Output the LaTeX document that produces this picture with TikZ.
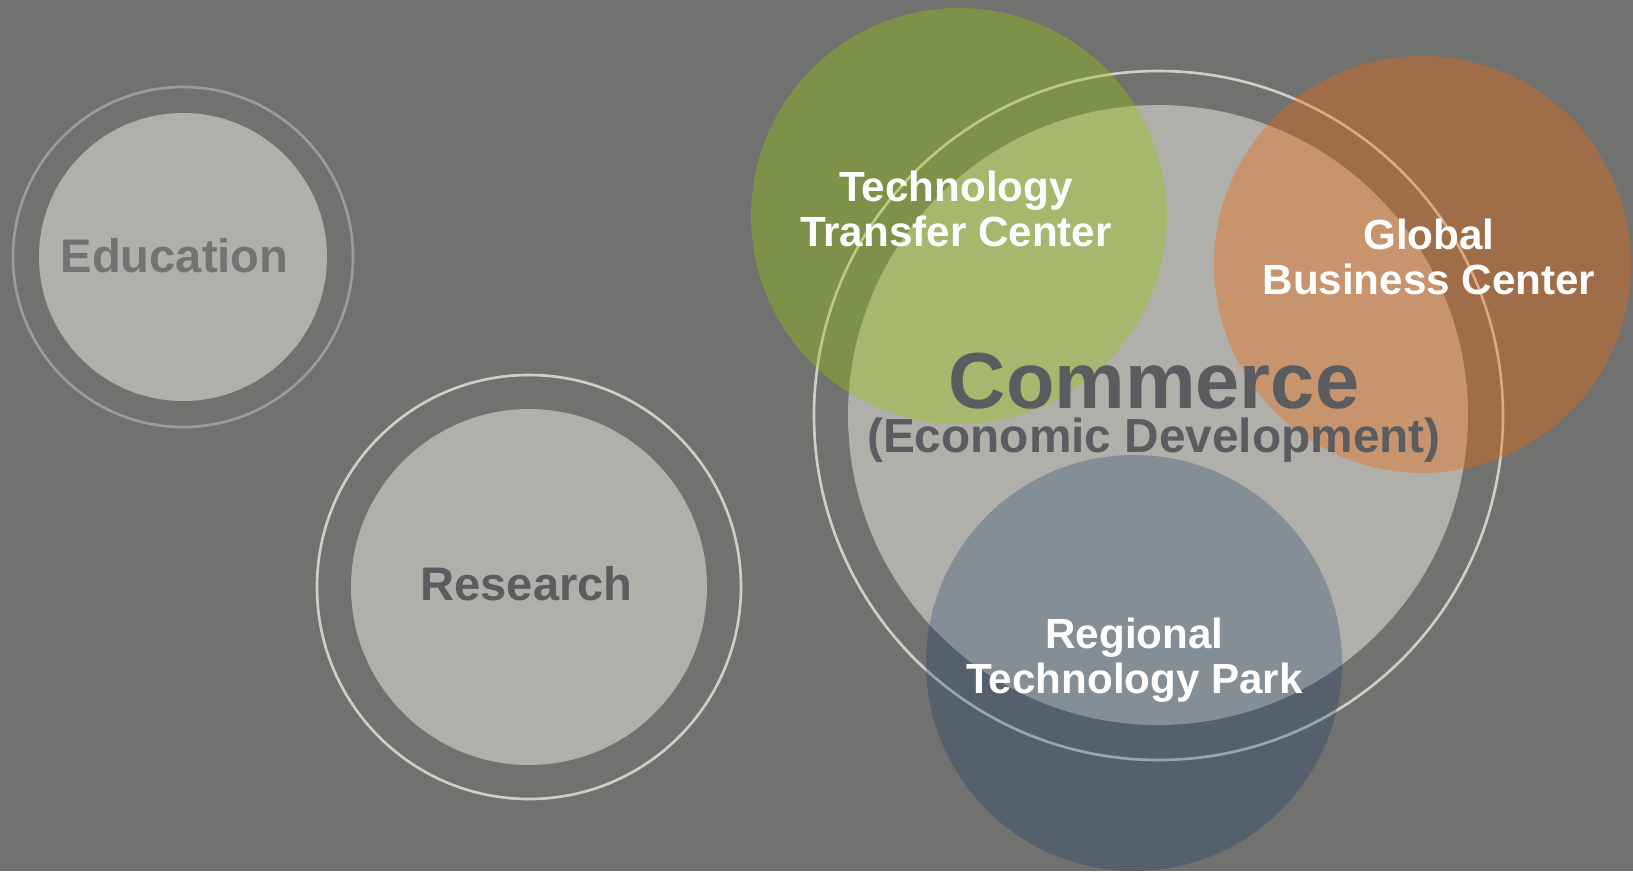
\documentclass[tikz,border=0pt]{standalone}
\usepackage{fontspec}
\setmainfont{Liberation Sans}
\definecolor{bggray}{HTML}{717270}
\definecolor{diskgray}{HTML}{B0AFAA}
\definecolor{ringgray}{HTML}{CFCEC9}
\definecolor{ringdim}{HTML}{9C9D9B}
\definecolor{textdark}{HTML}{5B5C5F}
\definecolor{textdim}{HTML}{737373}
\definecolor{techgreen}{RGB}{150,203,0}
\definecolor{bizorange}{RGB}{247,100,0}
\definecolor{parkblue}{RGB}{0,46,96}

\begin{document}
\begin{tikzpicture}[
  disk/.style={fill=diskgray},
  ring/.style={draw=#1, line width=0.75pt},
  spot/.style={fill=#1, fill opacity=0.35},
  area/.style={text=textdark, font=\fontsize{13.4}{14}\selectfont\bfseries, anchor=base, inner sep=1.5pt},
  unit/.style={text=white, font=\fontsize{12}{12.8}\selectfont\bfseries, align=center},
]

\useasboundingbox (0,0) rectangle (16.33,-8.71);
\fill[bggray] (0,0) rectangle (16.33,-8.71);

\fill[disk] (1.83,-2.57) circle (1.44);
\draw[ring=ringdim] (1.83,-2.57) circle (1.70);

\fill[disk] (5.29,-5.87) circle (1.78);
\draw[ring=ringgray] (5.29,-5.87) circle (2.12);

\fill[disk] (11.58,-4.15) circle (3.10);
\draw[ring=ringgray] (11.585,-4.155) circle (3.445);

\fill[spot=techgreen] (9.59,-2.16) circle (2.08);
\fill[spot=bizorange] (14.225,-2.645) circle (2.085);
\fill[spot=parkblue, fill opacity=0.25] (11.34,-6.63) circle (2.08);

\node[area, text=textdim] (edu) at (1.745,-2.72) {Education};
\node[area] (research) at (5.265,-6.00) {Research};
\node[area, font=\fontsize{22.6}{24}\selectfont\bfseries] (commerce) at (11.54,-4.08) {Commerce};
\node[area, font=\fontsize{13.6}{14}\selectfont\bfseries] (econ) at (11.54,-4.52) {(Economic Development)};

\node[unit] (ttc) at (9.56,-2.085) {Technology\\Transfer Center};
\node[unit] (gbc) at (14.29,-2.565) {Global\\Business Center};
\node[unit] (rtp) at (11.345,-6.60) {Regional\\Technology Park};

\end{tikzpicture}
\end{document}
